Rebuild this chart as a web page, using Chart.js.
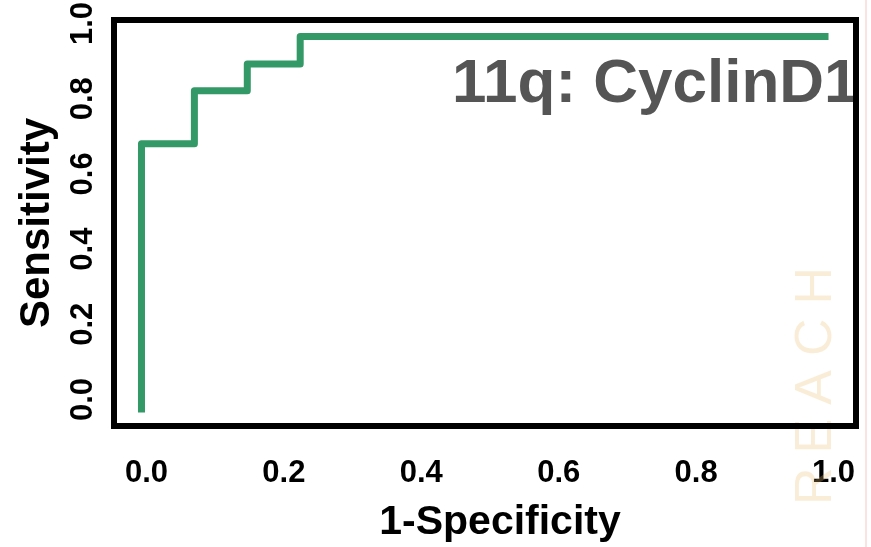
<!DOCTYPE html>
<html>
<head>
<meta charset="utf-8">
<style>
  body { margin: 0; background: #ffffff; }
  #roc { display: block; }
</style>
<script src="https://cdn.jsdelivr.net/npm/chart.js@4/dist/chart.umd.min.js"></script>
</head>
<body>
<canvas id="roc" width="871" height="547"></canvas>
<script>
// ROC curve (1-specificity vs sensitivity)
const fpr = [0, 0, 0.077, 0.077, 0.154, 0.154, 0.231, 0.231, 1.0];
const tpr = [0, 0.715, 0.715, 0.856, 0.856, 0.927, 0.927, 1.0, 1.0];
const xTicks = [0, 0.2, 0.4, 0.6, 0.8, 1.0];
const yTicks = [0, 0.2, 0.4, 0.6, 0.8, 1.0];
const panelTitle = "11q: CyclinD1";
const xTitle = "1-Specificity";
const yTitle = "Sensitivity";

const fontFamily = "'Liberation Sans', Arial, Helvetica, sans-serif";

let rocPoints = fpr.map((x, i) => ({ x: x, y: tpr[i] }));

// big grey label inside the plot, x title, black frame on top, faint watermark
const panelDecor = {
    id: 'panelDecor',
    afterDatasetsDraw(chart) {
        const ctx = chart.ctx;
        const area = chart.chartArea;
        ctx.save();
        ctx.font = "bold 62px " + fontFamily;
        ctx.fillStyle = "#555555";
        ctx.textBaseline = "alphabetic";
        ctx.textAlign = "left";
        ctx.fillText(panelTitle, area.left + 338, area.top + 82);

        ctx.font = "bold 41px " + fontFamily;
        ctx.fillStyle = "#000000";
        ctx.textAlign = "center";
        ctx.fillText(xTitle, area.left + 386, area.bottom + 108);
        ctx.restore();
    },
    afterDraw(chart) {
        const ctx = chart.ctx;
        const area = chart.chartArea;
        ctx.save();
        // watermark
        ctx.translate(831, 505);
        ctx.rotate(-Math.PI / 2);
        ctx.font = "52px " + fontFamily;
        ctx.letterSpacing = "14px";
        ctx.fillStyle = "rgba(236, 190, 110, 0.28)";
        ctx.textAlign = "left";
        ctx.textBaseline = "alphabetic";
        ctx.fillText("REACH", 0, 0);
        ctx.restore();

        ctx.save();
        ctx.strokeStyle = "rgba(245, 200, 195, 0.5)";
        ctx.lineWidth = 2;
        ctx.beginPath();
        ctx.moveTo(866, 0);
        ctx.lineTo(866, 547);
        ctx.stroke();

        ctx.strokeStyle = "#000000";
        ctx.lineWidth = 6;
        ctx.strokeRect(area.left, area.top, area.right - area.left, area.bottom - area.top);
        ctx.restore();
    }
};

const ctx = document.getElementById('roc').getContext('2d');
const chart = new Chart(ctx, {
    type: 'line',
    data: {
        datasets: [{
            label: panelTitle,
            data: rocPoints,
            borderColor: '#339966',
            borderWidth: 7,
            borderJoinStyle: 'round',
            borderCapStyle: 'butt',
            pointRadius: 0,
            tension: 0,
            fill: false
        }]
    },
    options: {
        responsive: false,
        animation: false,
        devicePixelRatio: 1,
        layout: {
            padding: { top: 20, right: 15, bottom: 0, left: 0 }
        },
        plugins: {
            legend: { display: false },
            tooltip: { enabled: false },
            title: { display: false }
        },
        scales: {
            x: {
                type: 'linear',
                position: 'bottom',
                min: -0.04,
                max: 1.04,
                afterBuildTicks: (scale) => {
                    scale.ticks = xTicks.map(v => ({ value: v }));
                },
                afterFit: (scale) => {
                    scale.height = 121;
                    scale.paddingLeft = 0;
                    scale.paddingRight = 0;
                },
                grid: { display: false, drawTicks: false },
                border: { display: false },
                ticks: {
                    color: '#000000',
                    font: { family: fontFamily, size: 31, weight: 'bold' },
                    padding: 29,
                    labelOffset: 5,
                    maxRotation: 0,
                    autoSkip: false,
                    callback: (value) => Number(value).toFixed(1)
                },
                title: { display: false }
            },
            y: {
                type: 'linear',
                position: 'left',
                min: -0.036,
                max: 1.044,
                afterBuildTicks: (scale) => {
                    scale.ticks = yTicks.map(v => ({ value: v }));
                },
                afterFit: (scale) => {
                    scale.width = 114;
                    scale.paddingTop = 0;
                    scale.paddingBottom = 0;
                },
                grid: { display: false, drawTicks: false },
                border: { display: false },
                ticks: {
                    color: '#000000',
                    font: { family: fontFamily, size: 31, weight: 'bold' },
                    minRotation: 90,
                    maxRotation: 90,
                    crossAlign: 'center',
                    padding: 9,
                    labelOffset: -13,
                    autoSkip: false,
                    callback: (value) => Number(value).toFixed(1)
                },
                title: {
                    display: true,
                    text: yTitle,
                    color: '#000000',
                    font: { family: fontFamily, size: 42, weight: 'bold' },
                    padding: { top: 12, bottom: 0 }
                }
            }
        }
    },
    plugins: [panelDecor]
});
</script>
</body>
</html>
